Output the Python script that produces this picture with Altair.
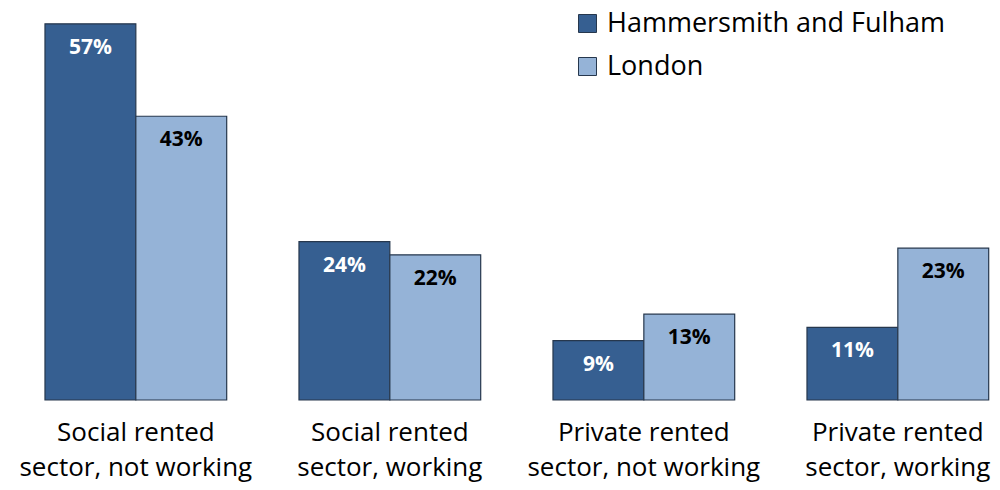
import altair as alt
import pandas as pd

categories = [
    "Social rented sector, not working",
    "Social rented sector, working",
    "Private rented sector, not working",
    "Private rented sector, working",
]
series = ["Hammersmith and Fulham", "London"]
hf_values = [57, 24, 9, 11]
london_values = [43, 22, 13, 23]

rows = []
for c, h, l in zip(categories, hf_values, london_values):
    rows.append({"category": c, "area": series[0], "value": h, "label": f"{h}%"})
    rows.append({"category": c, "area": series[1], "value": l, "label": f"{l}%"})
df = pd.DataFrame(rows)

FONT = "Open Sans"
dark = "#365F91"
light = "#95B3D7"

x_enc = alt.X(
    "category:N",
    sort=categories,
    title=None,
    scale=alt.Scale(paddingInner=0.2846, paddingOuter=0.0793, align=0.918),
    axis=alt.Axis(
        domain=False,
        ticks=False,
        grid=False,
        labelAngle=0,
        labelFont=FONT,
        labelFontSize=26,
        labelColor="#000000",
        labelPadding=19,
        labelLineHeight=35,
        labelBaseline="top",
        labelLimit=400,
        labelExpr="[slice(datum.label,0,indexof(datum.label,' sector')), slice(datum.label,indexof(datum.label,' sector')+1)]",
    ),
)
xoff = alt.XOffset("area:N", sort=series, scale=alt.Scale(paddingInner=0, paddingOuter=0))
y_enc = alt.Y("value:Q", scale=alt.Scale(domain=[0, 59.4], nice=False), axis=None)

bars = alt.Chart(df).mark_bar(stroke="#26374d", strokeWidth=1.2).encode(
    x=x_enc,
    xOffset=xoff,
    y=y_enc,
    color=alt.Color(
        "area:N",
        sort=series,
        scale=alt.Scale(domain=series, range=[dark, light]),
        legend=alt.Legend(
            title=None,
            orient="none",
            legendX=566,
            legendY=2,
            symbolType="square",
            symbolSize=324,
            symbolStrokeColor="#26374d",
            symbolStrokeWidth=1,
            symbolOpacity=1,
            labelFont=FONT,
            labelFontSize=27,
            labelColor="#000000",
            labelOffset=6,
            labelLimit=500,
            rowPadding=15,
        ),
    ),
)

labels = alt.Chart(df).mark_text(
    font=FONT, fontSize=21, fontWeight="bold", baseline="alphabetic", dy=30
).encode(
    x=alt.X("category:N", sort=categories),
    xOffset=alt.XOffset("area:N", sort=series),
    y=alt.Y("value:Q"),
    text="label:N",
    color=alt.condition(
        alt.datum.area == series[0], alt.value("#ffffff"), alt.value("#000000")
    ),
)

chart = (
    alt.layer(bars, labels)
    .properties(
        width=984,
        height=392,
        background="#ffffff",
        autosize=alt.AutoSizeParams(type="none"),
        padding={"left": 0, "top": 0, "right": 0, "bottom": 90},
    )
    .configure_view(strokeWidth=0, stroke="transparent")
)

chart.save("out.html", embed_options={"renderer": "svg", "actions": False})
